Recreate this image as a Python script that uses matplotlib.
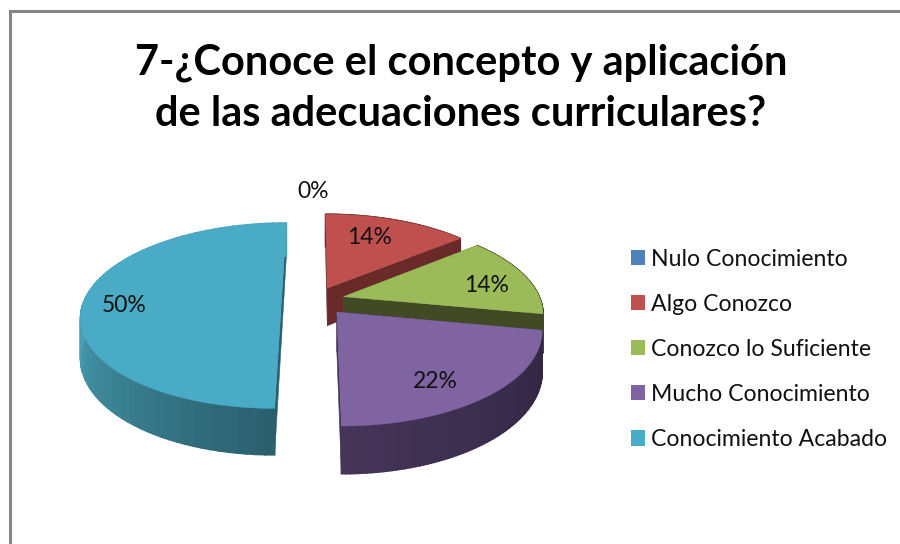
import numpy as np
import matplotlib
matplotlib.use('Agg')
import matplotlib.pyplot as plt
from matplotlib.patches import Patch
from matplotlib.colors import to_rgb

categories = ['Nulo Conocimiento', 'Algo Conozco', 'Conozco lo Suficiente',
              'Mucho Conocimiento', 'Conocimiento Acabado']
values = [0, 14, 14, 22, 50]
pct_labels = ['0%', '14%', '14%', '22%', '50%']

colors = ['#4f81bd', '#c0504d', '#9bbb59', '#8064a2', '#4aabc6']
# side wall colours: (at the t = 180 end, away from it)
wall_near = ['#2c4770', '#6b2a2a', '#414a25', '#453558', '#2a5f6d']
wall_far = ['#2c4770', '#6b2a2a', '#414a25', '#2e2340', '#4aa3b8']
label_xy = [(313, 192), (370, 238), (487, 286), (435, 382), (124, 306)]

# look of the fake 3d pie, in pixels
cx, cy = 315, 300
rx, ry = 197, 90
persp = 0.17
depth = 38.5
explode = [0.15, 0.15, 0.15, 0.17, 0.17]


def project(x, y, lower=False):
    w = 1 + persp * y
    sx = cx + rx * x / w
    sy = cy - ry * y / w
    if lower:
        sy = sy + depth / w
    return sx, sy


def mix(c1, c2, f):
    a, b = np.array(to_rgb(c1)), np.array(to_rgb(c2))
    return tuple(a + (b - a) * f)


fig = plt.figure(figsize=(9, 5.44), dpi=100)
ax = fig.add_axes([0, 0, 1, 1])
ax.set_xlim(0, 900)
ax.set_ylim(544, 0)
ax.axis('off')

# chart frame, runs off the picture to the right and the bottom
ax.plot([9.5, 9.5, 900], [544, 10.5, 10.5], color='#868686', lw=2.2, solid_joinstyle='miter')

ax.text(461, 88, '7-¿Conoce el concepto y aplicación\nde las adecuaciones curriculares?',
        ha='center', va='center', family='Lato', weight='bold', fontsize=30,
        color='black', linespacing=1.43)

ends = np.cumsum(values) / np.sum(values) * 360
starts = ends - np.array(values) / np.sum(values) * 360

# back to front
for i in [1, 2, 4, 3]:
    t = np.radians(np.linspace(starts[i], ends[i], 80))
    mid = np.radians((starts[i] + ends[i]) / 2)
    ox, oy = explode[i] * np.sin(mid), explode[i] * np.cos(mid)
    px = ox + np.sin(t)
    py = oy + np.cos(t)

    # walls along the two cuts
    for k in [0, -1]:
        tip_top = project(ox, oy)
        tip_low = project(ox, oy, True)
        rim_top = project(px[k], py[k])
        rim_low = project(px[k], py[k], True)
        ax.fill([tip_top[0], rim_top[0], rim_low[0], tip_low[0]],
                [tip_top[1], rim_top[1], rim_low[1], tip_low[1]],
                color=wall_near[i], lw=0.4, zorder=2)

    # outer wall, cut in strips for the shading
    for j in range(len(t) - 1):
        a_top = project(px[j], py[j])
        b_top = project(px[j + 1], py[j + 1])
        a_low = project(px[j], py[j], True)
        b_low = project(px[j + 1], py[j + 1], True)
        f = min(abs(np.degrees(t[j]) - 180) / 90, 1)
        ax.fill([a_top[0], b_top[0], b_low[0], a_low[0]],
                [a_top[1], b_top[1], b_low[1], a_low[1]],
                color=mix(wall_near[i], wall_far[i], f), lw=1.2, zorder=2)

    # top face
    xs = np.concatenate([[ox], px])
    ys = np.concatenate([[oy], py])
    sx, sy = project(xs, ys)
    ax.fill(sx, sy, color=colors[i], lw=0.3, zorder=2)

for (lx, ly), lab in zip(label_xy, pct_labels):
    ax.text(lx, ly, lab, ha='center', va='center', family='Lato', fontsize=16.5,
            color='#111111', zorder=5)

handles = [Patch(facecolor=c, edgecolor='none') for c in colors]
ax.legend(handles, categories, loc='upper left', bbox_to_anchor=(0.701, 0.543),
          frameon=False, prop={'family': 'Lato', 'size': 16.6},
          handlelength=0.61, handleheight=0.65, handletextpad=0.26,
          labelspacing=1.045, borderpad=0, borderaxespad=0, labelcolor='#111111')

fig.savefig('out.png', dpi=100, facecolor='white')
